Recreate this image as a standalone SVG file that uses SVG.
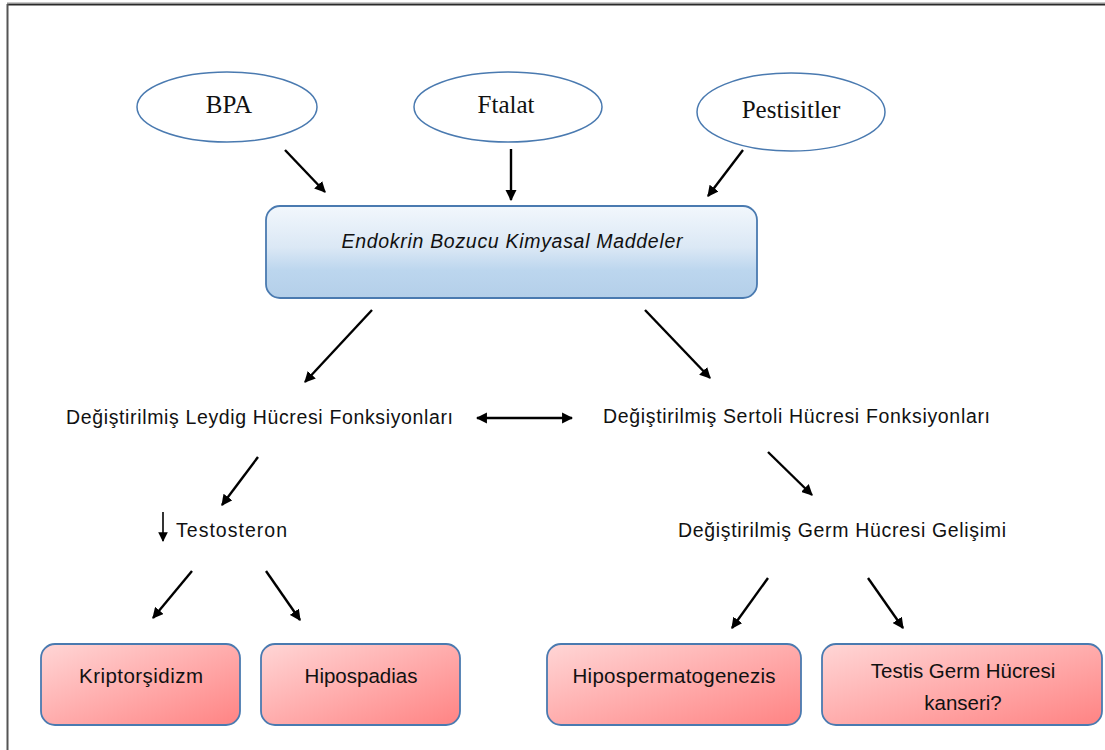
<svg xmlns="http://www.w3.org/2000/svg" width="1105" height="750" viewBox="0 0 1105 750">
<defs>
<linearGradient id="gBlue" x1="0" y1="0" x2="0" y2="1">
<stop offset="0" stop-color="#f2f7fc"/>
<stop offset="0.45" stop-color="#dbe8f5"/>
<stop offset="0.7" stop-color="#bcd6ee"/>
<stop offset="1" stop-color="#b4cfe9"/>
</linearGradient>
<linearGradient id="gRed" x1="0" y1="0" x2="1" y2="1">
<stop offset="0" stop-color="#ffd6d6"/>
<stop offset="1" stop-color="#ff8383"/>
</linearGradient>
<marker id="ah" viewBox="0 0 10 10" refX="9" refY="5" markerWidth="4.6" markerHeight="4.6" orient="auto-start-reverse" markerUnits="strokeWidth">
<path d="M0,0 L10,5 L0,10 Z" fill="#000"/>
</marker>
<marker id="ahs" viewBox="0 0 10 10" refX="9" refY="5" markerWidth="6" markerHeight="8" orient="auto" markerUnits="strokeWidth">
<path d="M0,0 L10,5 L0,10 Z" fill="#000"/>
</marker>
</defs>
<style>
.ell{fill:#fff;stroke:#4a7ab0;stroke-width:1.5}
.tser{font-family:"Liberation Serif","Times New Roman",serif;font-size:25px;fill:#111;text-anchor:middle}
.tsan{font-family:"Liberation Sans",Arial,sans-serif;font-size:19.5px;fill:#111}
.tbox{font-family:"Liberation Sans",Arial,sans-serif;font-size:20.5px;fill:#111;text-anchor:middle}
.box{stroke:#4a7ab0;stroke-width:1.8}
.con{stroke:#000;stroke-width:2.4;fill:none;marker-end:url(#ah)}
</style>
<rect width="1105" height="750" fill="#fff"/>
<g id="frame">
<line x1="7" y1="2.5" x2="1105" y2="2.5" stroke="#c8c8c8" stroke-width="1"/>
<line x1="7" y1="4.5" x2="1105" y2="4.5" stroke="#2a2a2a" stroke-width="2"/>
<line x1="7.5" y1="4" x2="7.5" y2="750" stroke="#555" stroke-width="2"/>
</g>
<g id="n-bpa"><ellipse class="ell" cx="227" cy="107" rx="90" ry="35"/><text class="tser" x="229" y="113">BPA</text></g>
<g id="n-ftalat"><ellipse class="ell" cx="508" cy="107" rx="94" ry="35"/><text class="tser" x="506" y="113">Ftalat</text></g>
<g id="n-pest"><ellipse class="ell" cx="791" cy="112" rx="94" ry="39"/><text class="tser" x="791" y="118">Pestisitler</text></g>
<g id="n-edc"><rect class="box" x="266" y="206" width="491" height="92" rx="14" fill="url(#gBlue)"/><text class="tsan" x="512" y="248" text-anchor="middle" font-style="italic" fill="#3a3a3a" textLength="341">Endokrin Bozucu Kimyasal Maddeler</text></g>
<g id="n-leydig"><text class="tsan" x="66" y="424" textLength="387">Değiştirilmiş Leydig Hücresi Fonksiyonları</text></g>
<g id="n-sertoli"><text class="tsan" x="603" y="423" textLength="387">Değiştirilmiş Sertoli Hücresi Fonksiyonları</text></g>
<g id="n-testo"><text class="tsan" x="176" y="537" textLength="111">Testosteron</text>
<line x1="163" y1="512" x2="163" y2="541" stroke="#000" stroke-width="1.6" marker-end="url(#ahs)"/></g>
<g id="n-germ"><text class="tsan" x="678" y="537" textLength="328">Değiştirilmiş Germ Hücresi Gelişimi</text></g>
<g id="n-kript"><rect class="box" x="41" y="644" width="199" height="81" rx="14" fill="url(#gRed)"/><text class="tbox" x="141" y="683" textLength="124">Kriptorşidizm</text></g>
<g id="n-hipos"><rect class="box" x="261" y="644" width="199" height="81" rx="14" fill="url(#gRed)"/><text class="tbox" x="361" y="683">Hipospadias</text></g>
<g id="n-hipsp"><rect class="box" x="547" y="644" width="254" height="81" rx="14" fill="url(#gRed)"/><text class="tbox" x="674" y="683" textLength="203">Hipospermatogenezis</text></g>
<g id="n-tgcc"><rect class="box" x="822" y="644" width="280" height="81" rx="14" fill="url(#gRed)"/><text class="tbox" x="963" y="678">Testis Germ Hücresi</text><text class="tbox" x="963" y="710">kanseri?</text></g>
<g id="connectors">
<line class="con" x1="285" y1="150" x2="325" y2="192"/>
<line class="con" x1="511" y1="149" x2="511" y2="200"/>
<line class="con" x1="743" y1="150" x2="708" y2="196"/>
<line class="con" x1="372" y1="310" x2="305" y2="382"/>
<line class="con" x1="645" y1="310" x2="710" y2="378"/>
<line class="con" x1="477" y1="418" x2="572" y2="418" marker-start="url(#ah)"/>
<line class="con" x1="258" y1="457" x2="222" y2="505"/>
<line class="con" x1="768" y1="452" x2="812" y2="495"/>
<line class="con" x1="192" y1="571" x2="153" y2="618"/>
<line class="con" x1="266" y1="571" x2="300" y2="620"/>
<line class="con" x1="768" y1="578" x2="732" y2="628"/>
<line class="con" x1="868" y1="578" x2="903" y2="628"/>
</g>
</svg>
